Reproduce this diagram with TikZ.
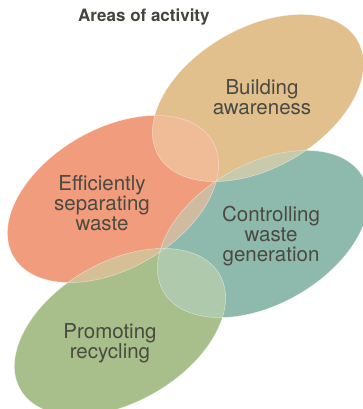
\documentclass[tikz,border=0pt]{standalone}
\usepackage{fontspec}
\setmainfont{TeX Gyre Heros}
\begin{document}
\begin{tikzpicture}[x=1pt,y=-1pt,
  lbl/.style={text=txt, align=center, font=\fontsize{20.5}{20}\selectfont, inner sep=0pt},
  ttl/.style={text=ttxt, font=\bfseries\fontsize{17}{20}\selectfont, inner sep=0pt, anchor=base west}]
\definecolor{txt}{HTML}{4A4A40}
\definecolor{ttxt}{HTML}{45433D}
\definecolor{ctan}{HTML}{E1C08E}
\definecolor{csal}{HTML}{F29C7E}
\definecolor{ctea}{HTML}{8EB9AD}
\definecolor{cgre}{HTML}{A8BF8C}
\definecolor{ctansal}{HTML}{EFBC97}
\definecolor{ctantea}{HTML}{C9C9AC}
\definecolor{csaltea}{HTML}{D0BBA1}
\definecolor{csalgre}{HTML}{D6BE96}
\definecolor{cteagre}{HTML}{AFC9AD}
\useasboundingbox (0,0) rectangle (363,409);
\newcommand\ellTan{(258,98) ellipse [x radius=115, y radius=70, rotate=30]}
\newcommand\ellSal{(113,199) ellipse [x radius=115, y radius=70, rotate=30]}
\newcommand\ellTea{(263,234) ellipse [x radius=115, y radius=70, rotate=30]}
\newcommand\ellGre{(120,332) ellipse [x radius=115, y radius=70, rotate=30]}
\fill[ctan] \ellTan;
\fill[csal] \ellSal;
\fill[ctea] \ellTea;
\fill[cgre] \ellGre;
\begin{scope}\clip \ellTan; \fill[ctansal] \ellSal; \end{scope}
\begin{scope}\clip \ellTan; \fill[ctantea] \ellTea; \end{scope}
\begin{scope}\clip \ellSal; \fill[csaltea] \ellTea; \end{scope}
\begin{scope}\clip \ellSal; \fill[csalgre] \ellGre; \end{scope}
\begin{scope}\clip \ellTea; \fill[cteagre] \ellGre; \end{scope}
\draw[white, opacity=0.5, line width=0.5pt] \ellTan \ellSal \ellTea \ellGre;
\node[ttl] (title) at (78,22) {Areas of activity};
\node[lbl] (aware) at (262,97) {Building\\awareness};
\node[lbl] (sep) at (102,203) {Efficiently\\separating\\waste};
\node[lbl] (ctrl) at (271,236) {Controlling\\waste\\generation};
\node[lbl] (rec) at (110,343) {Promoting\\recycling};
\end{tikzpicture}
\end{document}
